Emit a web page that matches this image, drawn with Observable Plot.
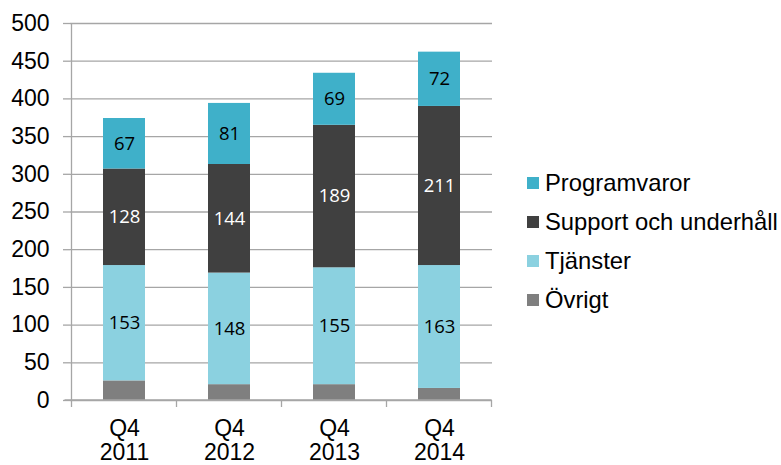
<!DOCTYPE html>
<html>
<head>
<meta charset="utf-8">
<script src="https://cdn.jsdelivr.net/npm/d3@7"></script>
<script src="https://cdn.jsdelivr.net/npm/@observablehq/plot@0.6"></script>
<style>
  html, body { margin: 0; padding: 0; background: white; }
  #wrap { position: relative; width: 781px; height: 465px; font-family: "Liberation Sans", Arial, sans-serif; }
  #legend { position: absolute; left: 527px; top: 163px; }
  .item { display: flex; align-items: center; height: 39px; font-size: 23.8px; color: #000; white-space: nowrap; }
  .sw { width: 12px; height: 12px; margin-right: 6px; flex: none; }
</style>
</head>
<body>
<div id="wrap"><div id="chart"></div><div id="legend"></div></div>
<script>
const quarters = ["Q4\n2011", "Q4\n2012", "Q4\n2013", "Q4\n2014"];
const series = ["Övrigt", "Tjänster", "Support och underhåll", "Programvaror"];
const ovrigt = [26, 21, 21, 16];
const tjanster = [153, 148, 155, 163];
const support = [128, 144, 189, 211];
const programvaror = [67, 81, 69, 72];
const yTicks = [0, 50, 100, 150, 200, 250, 300, 350, 400, 450, 500];
const colors = ["#7f7f7f", "#8bd1e0", "#404040", "#3fb0c9"];
const labelColors = {"Övrigt": null, "Tjänster": "black", "Support och underhåll": "white", "Programvaror": "black"};
const legendOrder = ["Programvaror", "Support och underhåll", "Tjänster", "Övrigt"];

const values = [ovrigt, tjanster, support, programvaror];
const data = [];
quarters.forEach((q, i) => {
  let acc = 0;
  series.forEach((s, j) => {
    const v = values[j][i];
    data.push({quarter: q, series: s, value: v, y1: acc, y2: acc + v});
    acc += v;
  });
});

const plot = Plot.plot({
  width: 781, height: 465,
  marginLeft: 70, marginRight: 289, marginTop: 23, marginBottom: 65,
  style: {fontFamily: '"Liberation Sans", Arial, sans-serif', fontSize: "23px", background: "white", color: "black"},
  x: {domain: quarters, paddingInner: 0.6, paddingOuter: 0.3},
  y: {domain: [0, 500]},
  color: {domain: series, range: colors},
  marks: [
    Plot.gridY(yTicks, {stroke: "#a6a6a6", strokeOpacity: 1, strokeWidth: 1.3}),
    Plot.axisY(yTicks, {tickSize: 7, tickPadding: 14, stroke: "#a6a6a6", strokeOpacity: 1, strokeWidth: 1.3, fill: "black", fontSize: 23, label: null}),
    Plot.axisX({tickSize: 0, tickPadding: 18, fontSize: 23, lineHeight: 1.06, fill: "black", label: null}),
    Plot.barY(data, {x: "quarter", y1: "y1", y2: "y2", fill: "series"}),
    Plot.text(data.filter(d => labelColors[d.series] === "black"), {x: "quarter", y: d => (d.y1 + d.y2) / 2, text: "value", fill: "black", fontFamily: '"Open Sans", sans-serif', fontSize: 18.5}),
    Plot.text(data.filter(d => labelColors[d.series] === "white"), {x: "quarter", y: d => (d.y1 + d.y2) / 2, text: "value", fill: "white", fontFamily: '"Open Sans", sans-serif', fontSize: 18.5})
  ]
});
document.getElementById("chart").appendChild(plot);

// axis lines and category boundary ticks from the plot's own scales
const xs = plot.scale("x");
const ys = plot.scale("y");
const svg = d3.select(plot);
const step = xs.step, bw = xs.bandwidth;
const bounds = quarters.map(q => xs.apply(q) - (step - bw) / 2);
bounds.push(bounds[bounds.length - 1] + step);
const y0 = ys.apply(0), yTop = ys.apply(500);
const g = svg.append("g").attr("stroke", "#a6a6a6").attr("stroke-width", 1.3);
g.append("line").attr("x1", bounds[0]).attr("x2", bounds[0]).attr("y1", yTop).attr("y2", y0);
g.append("line").attr("x1", bounds[0] - 7).attr("x2", bounds[bounds.length - 1]).attr("y1", y0).attr("y2", y0);
bounds.forEach(b => g.append("line").attr("x1", b).attr("x2", b).attr("y1", y0).attr("y2", y0 + 7));

const legend = document.getElementById("legend");
legendOrder.forEach(s => {
  const it = document.createElement("div");
  it.className = "item";
  const sw = document.createElement("span");
  sw.className = "sw";
  sw.style.background = colors[series.indexOf(s)];
  const tx = document.createElement("span");
  tx.textContent = s;
  it.appendChild(sw); it.appendChild(tx);
  legend.appendChild(it);
});
</script>
</body>
</html>
